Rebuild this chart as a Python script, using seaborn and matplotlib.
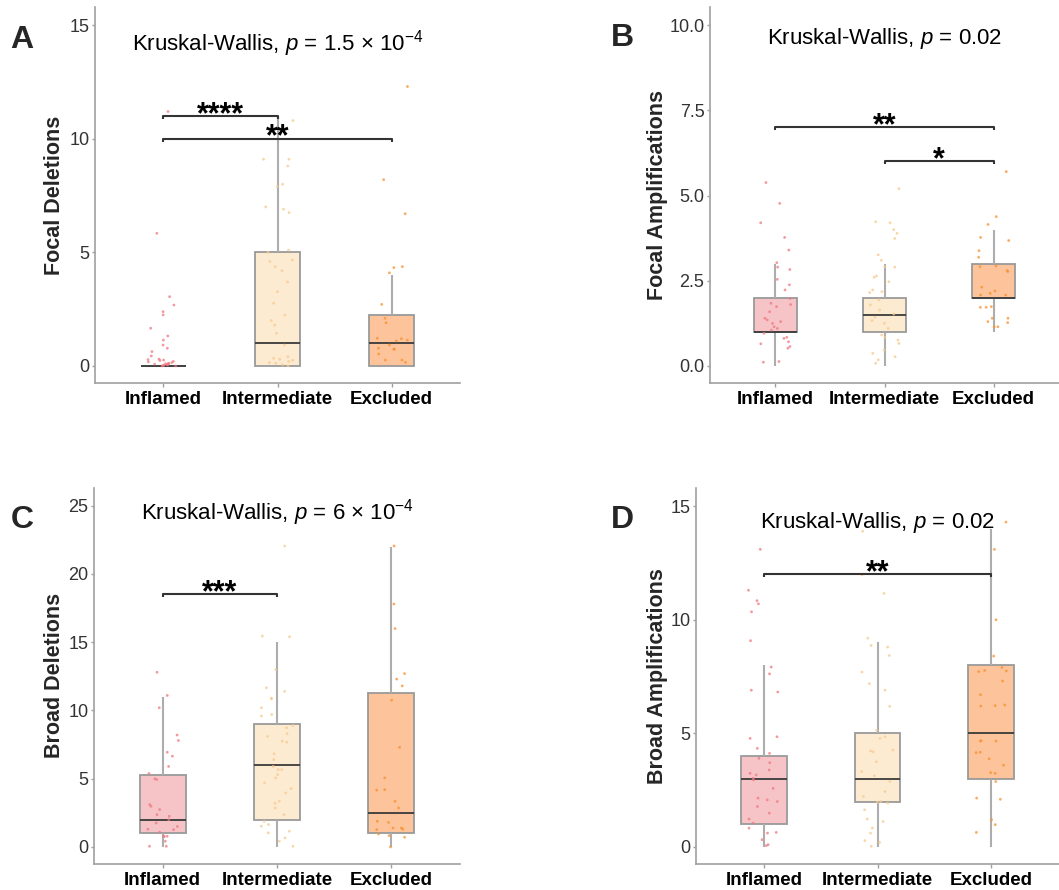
import numpy as np
import pandas as pd
import matplotlib
matplotlib.use("Agg")
import matplotlib.pyplot as plt
import seaborn as sns

sns.set_theme(style="white")
plt.rcParams['font.family'] = ['Liberation Sans', 'DejaVu Sans']
plt.rcParams['mathtext.fontset'] = 'custom'
plt.rcParams['mathtext.rm'] = 'Liberation Sans'
plt.rcParams['mathtext.it'] = 'Liberation Sans:italic'

groups = ["Inflamed", "Intermediate", "Excluded"]
box_fill = ["#F6C4C7", "#FDEBD1", "#FDC39A"]
point_col = ["#EE7880", "#F8C98E", "#F7902F"]

# ---------------- Panel A: Focal Deletions ----------------
A_inflamed = [11.2, 5.84, 3.05, 2.68, 2.39, 2.25, 1.66, 1.32, 1.14, 0.92, 0.78, 0.63, 0.44,
              0.26, 0.28, 0.24, 0.18, 0.15, 0.12, 0.10, 0.08, 0.05, 0.04, 0.02, 0.0, 0.0,
              0.06, 0.2, 0.3, 0.1]
A_intermediate = [10.8, 9.1, 9.1, 8.8, 8.0, 7.9, 7.0, 6.9, 6.75, 5.1, 5.0, 4.66, 4.6, 4.37, 4.2,
                  3.7, 3.27, 2.76, 2.24, 2.0, 1.8, 1.44, 0.92, 0.41, 0.34, 0.3, 0.2, 0.12, 0.05,
                  0.25, 0.15, 0.0]
A_excluded = [12.3, 8.2, 6.7, 4.37, 4.33, 4.1, 2.71, 1.9, 2.1, 1.14, 1.22, 1.2, 1.1, 0.92, 0.78,
              0.74, 0.74, 0.26, 0.16, 0.26, 0.53]
A_box = {"lo": [0, 0, 0], "q1": [0, 0, 0], "med": [0, 1, 1], "q3": [0, 5, 2.25], "hi": [0, 11, 4]}

# ---------------- Panel B: Focal Amplifications ----------------
B_inflamed = [5.38, 4.77, 4.2, 3.77, 3.4, 3.03, 2.9, 2.83, 2.54, 2.38, 2.23, 1.98, 1.84, 1.8, 1.74,
              1.59, 1.4, 1.35, 1.3, 1.25, 1.15, 1.1, 1.05, 0.96, 0.84, 0.81, 0.71, 0.65, 0.57, 0.52,
              0.11, 0.13]
B_intermediate = [5.2, 4.23, 4.2, 4.0, 3.89, 3.74, 3.26, 3.1, 2.91, 2.9, 2.64, 2.6, 2.47, 2.23, 2.18,
                  2.15, 1.94, 1.79, 1.64, 1.52, 1.43, 1.33, 1.25, 1.1, 0.91, 0.84, 0.76, 0.66, 0.47,
                  0.37, 0.27, 0.18, 0.08]
B_excluded = [5.7, 4.38, 4.15, 3.77, 3.68, 3.38, 3.19, 2.91, 2.8, 2.77, 2.93, 2.31, 2.2, 2.13, 2.08,
              2.08, 1.74, 1.72, 1.72, 1.4, 1.4, 1.3, 1.27, 1.15, 1.15]
B_box = {"lo": [0, 0, 1], "q1": [1, 1, 2], "med": [1, 1.5, 2], "q3": [2, 2, 3], "hi": [3, 3, 4]}

# ---------------- Panel C: Broad Deletions ----------------
C_inflamed = [12.8, 11.1, 10.2, 8.2, 7.8, 6.94, 6.65, 5.9, 5.38, 4.99, 4.94, 3.1, 2.98, 2.74, 2.37,
              2.25, 2.0, 1.76, 1.5, 1.27, 1.3, 1.08, 0.78, 0.8, 0.76, 0.42, 0.05, 0.05]
C_intermediate = [22.05, 15.4, 15.45, 13.0, 11.66, 11.4, 10.9, 10.85, 10.2, 9.7, 9.6, 8.9, 8.73, 8.3,
                  8.1, 7.75, 7.68, 6.82, 6.4, 5.9, 5.67, 5.67, 5.3, 5.06, 4.69, 4.28, 3.96, 3.35,
                  3.2, 2.86, 2.37, 1.88, 1.64, 1.52, 1.15, 1.03, 0.66, 0.42, 0.05]
C_excluded = [22.05, 17.8, 16.0, 12.7, 12.3, 11.8, 10.75, 7.3, 5.06, 4.2, 4.16, 3.35, 2.86, 1.88, 1.8,
              1.39, 1.27, 1.39, 1.3, 0.95, 0.83, 0.71, 0.0]
C_box = {"lo": [0, 0, 0], "q1": [1, 2, 1], "med": [2, 6, 2.5], "q3": [5.25, 9, 11.25], "hi": [11, 15, 22]}

# ---------------- Panel D: Broad Amplifications ----------------
D_inflamed = [13.1, 11.3, 10.84, 10.7, 10.35, 9.08, 7.92, 7.62, 6.9, 6.82, 4.85, 4.78, 4.34, 4.12, 3.9,
              3.71, 3.39, 3.24, 3.17, 3.02, 2.95, 2.58, 2.15, 2.07, 2.0, 1.78, 1.49, 1.23, 1.05, 0.83,
              0.61, 0.64, 0.32, 0.1, 0.06]
D_intermediate = [13.9, 11.98, 11.16, 9.19, 8.8, 8.87, 8.43, 7.7, 7.19, 6.9, 6.19, 5.14, 4.85, 4.78,
                  4.27, 4.23, 4.19, 3.75, 3.32, 3.13, 2.88, 2.44, 2.22, 2.0, 1.96, 1.93, 1.64, 1.23,
                  1.12, 0.61, 0.83, 0.28, 0.2, 0.03]
D_excluded = [14.3, 13.1, 10.0, 8.4, 7.9, 7.77, 7.75, 7.72, 7.3, 6.7, 6.2, 6.25, 6.22, 4.66, 4.68, 4.66,
              4.15, 4.17, 3.88, 3.6, 3.24, 3.27, 2.88, 2.15, 2.1, 1.2, 0.98, 0.64]
D_box = {"lo": [0, 0, 0], "q1": [1, 2, 3], "med": [3, 3, 5], "q3": [4, 5, 8], "hi": [8, 9, 14]}

panels = [
    dict(letter="A", ylabel="Focal Deletions", pts=[A_inflamed, A_intermediate, A_excluded], box=A_box,
         ylim=(-0.75, 15.8), yticks=[0, 5, 10, 15], ytl=["0", "5", "10", "15"],
         title=r"Kruskal-Wallis, $p$ = 1.5 × 10$^{-4}$", ty=14.2,
         brackets=[(0, 1, 11.0, "****"), (0, 2, 10.0, "**")],
         rect=(95, 7, 460, 383), lab_xy=(22, 40), ylab_xy=(55, 195)),
    dict(letter="B", ylabel="Focal Amplifications", pts=[B_inflamed, B_intermediate, B_excluded], box=B_box,
         ylim=(-0.5, 10.53), yticks=[0, 2.5, 5, 7.5, 10], ytl=["0.0", "2.5", "5.0", "7.5", "10.0"],
         title=r"Kruskal-Wallis, $p$ = 0.02", ty=9.6,
         brackets=[(0, 2, 7.0, "**"), (1, 2, 6.0, "*")],
         rect=(710, 7, 1059, 383), lab_xy=(622, 38), ylab_xy=(658, 195)),
    dict(letter="C", ylabel="Broad Deletions", pts=[C_inflamed, C_intermediate, C_excluded], box=C_box,
         ylim=(-1.25, 26.3), yticks=[0, 5, 10, 15, 20, 25], ytl=["0", "5", "10", "15", "20", "25"],
         title=r"Kruskal-Wallis, $p$ = 6 × 10$^{-4}$", ty=24.5,
         brackets=[(0, 1, 18.5, "***")],
         rect=(94, 488, 460, 864), lab_xy=(22, 520), ylab_xy=(55, 675)),
    dict(letter="D", ylabel="Broad Amplifications", pts=[D_inflamed, D_intermediate, D_excluded], box=D_box,
         ylim=(-0.75, 15.8), yticks=[0, 5, 10, 15], ytl=["0", "5", "10", "15"],
         title=r"Kruskal-Wallis, $p$ = 0.02", ty=14.3,
         brackets=[(0, 2, 12.0, "**")],
         rect=(696, 488, 1059, 864), lab_xy=(622, 520), ylab_xy=(658, 676)),
]

W, H = 1059, 890
fig = plt.figure(figsize=(W / 100, H / 100), dpi=100)

for p in panels:
    l, t, r, b = p["rect"]
    ax = fig.add_axes([l / W, 1 - b / H, (r - l) / W, (b - t) / H])

    # boxes from five-number summaries
    rows = []
    for i, g in enumerate(groups):
        for k in ["lo", "q1", "med", "q3", "hi"]:
            rows.append({"group": g, "value": p["box"][k][i]})
    bdf = pd.DataFrame(rows)
    sns.boxplot(data=bdf, x="group", y="value", order=groups, hue="group", hue_order=groups,
                palette=box_fill, saturation=1, legend=False, width=0.4, whis=(0, 100),
                showfliers=False, showcaps=False,
                linecolor="#9A9A9A", linewidth=1.3,
                whiskerprops=dict(color="#ADADAD", linewidth=1.5),
                medianprops=dict(color="#3A3A3A", linewidth=1.3), ax=ax, zorder=2)

    # points
    prow = []
    for i, g in enumerate(groups):
        for v in p["pts"][i]:
            prow.append({"group": g, "value": v})
    pdf = pd.DataFrame(prow)
    sns.stripplot(data=pdf, x="group", y="value", order=groups, hue="group", hue_order=groups,
                  palette=point_col, legend=False, jitter=0.14, size=2.0, alpha=0.75,
                  linewidth=0, ax=ax, zorder=3)

    ax.set_xlim(-0.6, 2.6)
    ax.set_ylim(*p["ylim"])
    ax.set_yticks(p["yticks"])
    ax.set_yticklabels(p["ytl"])
    ax.set_xlabel("")
    ax.set_ylabel("")
    for s in ["top", "right"]:
        ax.spines[s].set_visible(False)
    for s in ["left", "bottom"]:
        ax.spines[s].set_color("#A0A0A0")
        ax.spines[s].set_linewidth(1.2)
    ax.tick_params(axis="y", labelsize=13, colors="#A0A0A0",
                   length=2, width=1, left=True, pad=2)
    ax.tick_params(axis="x", labelsize=13.5, colors="#A0A0A0",
                   length=3, width=1, bottom=True, pad=3)
    for tl in ax.get_yticklabels():
        tl.set_color("#333333")
    for tl in ax.get_xticklabels():
        tl.set_fontweight("bold")
        tl.set_color("black")

    ax.text(1.0, p["ty"], p["title"], ha="center", va="center", fontsize=16, color="black")

    # significance brackets
    yr = p["ylim"][1] - p["ylim"][0]
    for (x1, x2, y, lab) in p["brackets"]:
        tick = yr * 0.008
        ax.plot([x1, x1, x2, x2], [y - tick, y, y, y - tick], color="#333333", lw=1.5,
                solid_capstyle="butt", zorder=4)
        ax.annotate(lab, xy=((x1 + x2) / 2, y), xytext=(0, -5), textcoords="offset points",
                    ha="center", va="baseline", fontsize=22, fontweight="bold", color="black")

    fig.text(p["lab_xy"][0] / W, 1 - p["lab_xy"][1] / H, p["letter"], ha="center", va="center",
             fontsize=23, fontweight="bold")
    fig.text(p["ylab_xy"][0] / W, 1 - p["ylab_xy"][1] / H, p["ylabel"], ha="center", va="center",
             rotation=90, fontsize=15.5, fontweight="bold")

fig.savefig("out.png", dpi=100, facecolor="white")
